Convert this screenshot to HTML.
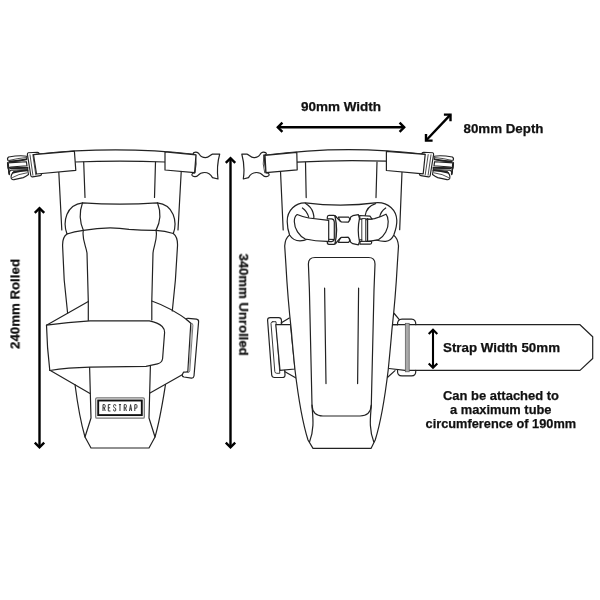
<!DOCTYPE html>
<html><head><meta charset="utf-8">
<style>
html,body{margin:0;padding:0;background:#fff;}
body{width:600px;height:600px;overflow:hidden;font-family:"Liberation Sans",sans-serif;}
svg{display:block}
.l{fill:none;stroke:#222;stroke-width:1.2;stroke-linecap:round;stroke-linejoin:round}
.f{fill:#fff;stroke:#222;stroke-width:1.2;stroke-linecap:round;stroke-linejoin:round}
.a{fill:none;stroke:#000;stroke-width:2.4;stroke-linecap:butt;stroke-linejoin:miter}
text{font-family:"Liberation Sans",sans-serif;font-weight:bold;font-size:13px;fill:#111;stroke:#111;stroke-width:.25}
</style></head><body>
<svg width="600" height="600" viewBox="0 0 600 600">
<rect width="600" height="600" fill="#fff"/>

<g id="lbuckles">
<!-- male buckle (left) -->
<g class="f" style="stroke-width:1.15">
<path d="M27 156.3Q20 155 8.6 157Q6.6 158.5 8.2 160.8Q10 162 20.3 160.7L26.6 159.2Z"/>
<path class="l" d="M9.5 160.3Q18 158.2 26 157.6" style="stroke-width:.8"/>
<path d="M7.5 162.9L26.4 161.7L27 165.8L10.8 167L8.2 168Z"/>
<path d="M7.5 162.9L9.3 174.6" />
<path d="M8.2 168L27.7 167.4L27.7 169.6L10.8 170.3L9 172"/>
<path d="M27.7 170L14 171.5Q10.5 174.5 11.2 178.3Q12 180.2 14 179.6L23.3 177.6Q26 176.5 28.5 174.5Z"/>
<path class="l" d="M12.5 177.5Q18 174 27 172.8" style="stroke-width:.8"/>
<path class="l" d="M9.6 161.6Q18 161 26.4 159.4M10.5 168.300L27.500 167.800M13 172.800Q20 170.600 27.600 170.400" style="stroke-width:1.7"/>
<path class="l" d="M8 163.500L9.300 174" style="stroke-width:1.700"/>
<path d="M28.3 152.8L37.5 152.3Q39 152.3 39.2 153.8L41.6 173.8Q41.6 175.4 40.2 175.6L32.5 176.9Q31 177 30.8 175.5L27.4 154.3Q27.3 153 28.3 152.8Z"/>
<path class="l" d="M30 154.8L32.9 175.2M32.8 154.6L35.8 174.8" style="stroke-width:.8"/>
</g>
<!-- female buckle (right of left bag) -->
<g class="f">
<path d="M195.6 155C193.5 155.3 192.4 153.6 194 152.6C196 151.6 198.5 152.5 199.5 154.5C201 157.2 203 157.6 205.5 157.6C209 157.6 210.5 154.5 212.5 154.1L219.7 154C217.5 162 216.8 170 218 179L212.5 177.6C210.5 174 208.5 172.5 204.5 172.5C201 172.5 199.5 173.5 198 175.3C196.5 177.2 193 177 192 175.3C191.5 173.8 193 172.6 194.8 172.8Z"/>
<path class="l" d="M195.6 155Q197.4 164 194.8 172.8M194.2 155.2Q195.8 164 193.4 172.6" style="stroke-width:.8"/>
</g>
</g>

<g id="leftbag">
<!-- top strap -->
<path class="l" d="M36 154.400Q115 145.500 194 154.300"/>
<path class="l" d="M75 162Q120 160.3 165 162"/>
<!-- verticals under strap -->
<path class="l" d="M58.8 172L61.8 230"/>
<path class="l" d="M83.7 162L85 197.5"/>
<path class="l" d="M155.5 162L154.5 197.5"/>
<path class="l" d="M181.2 172L178 230"/>
<!-- sleeves -->
<path class="f" d="M33.500 154.600L74.400 151.200L75.800 170.400L36.500 174Z"/>
<path class="f" d="M165 151.8L196 154.8L194.6 172.6L165 170Z"/>
<!-- roll -->
<path class="f" d="M67 234C62.5 222 66 204.5 82.7 202.8Q120 205.6 157.3 202.8C174 204.5 177.500 222 173.300 233.500Q165 231 156 230.400Q142 230.500 129 229.300Q108 225.800 83.400 230.400Q74 231.500 67 234Z"/>
<path class="l" d="M82.5 202.8Q77.5 217 83.4 230.4"/>
<path class="l" d="M157.5 202.8Q163 217 156 230.4"/>
<!-- body upper -->
<path class="l" d="M67 234Q62.3 237 62.6 246L64.2 280L67.6 313"/>
<path class="l" d="M173.3 233.5Q177.9 237 177.5 246L175.4 280L172.3 311"/>
<path class="l" d="M83.4 230.4C81.5 238 86 246 87 253L88.3 301.5V321"/>
<path class="l" d="M156 230.4C158 238 153.6 246 153 253L151.8 301V320"/>
<!-- upper diagonals -->
<path class="l" d="M46.500 325.200L88.300 301.500"/>
<path class="l" d="M151.8 301Q172 308 190.8 322.5"/>
<!-- lower body -->
<path class="l" d="M75 384.5C77 400 80 420 85 437L91 448H149L155 437C160 420 163 400 165.5 384.5"/>
<path class="l" d="M89.6 367L91 418L85 437"/>
<path class="l" d="M150.4 366L149 418L155 437"/>
<path class="l" d="M49.5 370L90 393.5"/>
<path class="l" d="M150 393L187.5 371.7"/>
<!-- D ring -->
<g transform="translate(0 .7)">
<path class="f" d="M188.3 317.6L196.5 318.4Q198.8 318.8 198.6 321L194 375.3Q193.6 377.6 191.4 377.4L184 376.3Q181.8 375.8 182.4 373.8L183.5 371.5L187.8 371.3L190.8 322.5L186.3 318.5Q186.5 317.4 188.3 317.6Z"/>
<path class="l" d="M190.8 322.5Q193 322.2 192.9 324.5L189.8 370Q189.5 372.5 187.5 371.7" style="stroke-width:.8;stroke:#555"/>
<path class="l" d="M191.9 323.5L188.8 371" style="stroke-width:.6;stroke:#888"/>
</g>
<!-- wrap strap -->
<path class="f" d="M46.500 325.200Q68 321.900 90 320.800L149.300 320.900Q158 322.500 162.200 326.500Q164.600 329 164.600 332.500L162.600 358.500Q162 362.800 157.500 363.800L146 366.300L90 367.100Q68 367.600 49.800 370.500Q47 347 46.500 325.200Z"/>
<!-- label -->
<rect x="95.7" y="397.8" width="48.6" height="20.4" rx="1.2" fill="#fff" stroke="#777" stroke-width="1.3"/>
<rect x="98.2" y="400.5" width="43.6" height="14.6" fill="#fff" stroke="#111" stroke-width="1.9"/>
<g fill="none" stroke="#333" stroke-width="1" stroke-linejoin="miter"><path vector-effect="non-scaling-stroke" transform="translate(103.00 404.6) scale(.72 1)" d="M0 6.4V0H2Q3 0 3 1V2.2Q3 3.2 2 3.2H0M1.8 3.2L3 6.4"/><path vector-effect="non-scaling-stroke" transform="translate(108.30 404.6) scale(.72 1)" d="M3 0H0V6.4H3M0 3.2H2.5"/><path vector-effect="non-scaling-stroke" transform="translate(113.60 404.6) scale(.72 1)" d="M3 1.6V1Q3 0 2 0H1Q0 0 0 1V2Q0 2.9 1.5 3.2Q3 3.5 3 4.4V5.4Q3 6.4 2 6.4H1Q0 6.4 0 5.4V4.8"/><path vector-effect="non-scaling-stroke" transform="translate(118.90 404.6) scale(.72 1)" d="M0 0H3M1.5 0V6.4"/><path vector-effect="non-scaling-stroke" transform="translate(124.20 404.6) scale(.72 1)" d="M0 6.4V0H2Q3 0 3 1V2.2Q3 3.2 2 3.2H0M1.8 3.2L3 6.4"/><path vector-effect="non-scaling-stroke" transform="translate(129.50 404.6) scale(.72 1)" d="M0 6.4L1.5 0L3 6.4M0.6 4.3H2.4"/><path vector-effect="non-scaling-stroke" transform="translate(134.80 404.6) scale(.72 1)" d="M0 6.4V0H2Q3 0 3 1V2.6Q3 3.6 2 3.6H0"/></g>
</g>

<g id="rightbag">
<!-- buckles first (under sleeves) -->
<g class="f">
<!-- female buckle left -->
<path d="M263.9 155C266 155.3 267.1 153.6 265.5 152.6C263.5 151.6 261 152.5 260 154.5C258.5 157.2 256.5 157.6 254 157.6C250.5 157.6 249 154.5 247 154.1L241.8 154C244 162 244.7 170 243.3 179L248.5 177.6C250.5 174 252.5 172.5 256.5 172.5C260 172.5 261.5 173.5 263 175.3C264.5 177.2 268 177 269 175.3C269.5 173.8 268 172.6 266.2 172.8Z"/>
<path class="l" d="M263.9 155Q262.1 164 264.7 172.8M265.3 155.2Q263.7 164 266.1 172.6" style="stroke-width:.8"/>
</g>
<!-- male buckle right -->
<g class="f" style="stroke-width:1.15">
<path d="M434 156.3Q441 155 452.4 157Q454.4 158.5 452.8 160.8Q451 162 440.7 160.7L434.4 159.2Z"/>
<path class="l" d="M451.5 160.3Q443 158.2 435 157.6" style="stroke-width:.8"/>
<path d="M453.5 162.9L434.6 161.7L434 165.8L450.2 167L452.8 168Z"/>
<path d="M453.5 162.9L451.7 174.6"/>
<path d="M452.8 168L433.3 167.4L433.3 169.6L450.2 170.3L452 172"/>
<path d="M433.3 170L447 171.5Q450.5 174.5 449.8 178.3Q449 180.2 447 179.6L437.7 177.6Q435 176.5 432.5 174.5Z"/>
<path class="l" d="M448.500 177.5Q443 174 434 172.8" style="stroke-width:.8"/>
<path class="l" d="M451.400 161.600Q443 161 434.600 159.400M450.500 168.300L433.500 167.800M448 172.800Q441 170.600 433.400 170.400" style="stroke-width:1.700"/>
<path class="l" d="M453 163.500L451.700 174" style="stroke-width:1.700"/>
<path d="M432.700 152.8L423.500 152.3Q422 152.3 421.800 153.8L419.400 173.800Q419.400 175.400 420.800 175.600L428.500 176.900Q430 177 430.200 175.500L433.600 154.300Q433.700 153 432.700 152.800Z"/>
<path class="l" d="M431 154.800L428.100 175.200M428.200 154.600L425.200 174.800" style="stroke-width:.8"/>
</g>
<!-- top strap -->
<path class="l" d="M266 155.200Q345 144.400 425 154.300"/>
<path class="l" d="M297 162.200Q341 159.600 386.500 161.200"/>
<path class="l" d="M280.500 171.300L283.200 230"/>
<path class="l" d="M305.500 162.300L306.200 197.600"/>
<path class="l" d="M377 162L376 197.600"/>
<path class="l" d="M402 172L399.700 229.700"/>
<path class="f" d="M265 155.300L296.800 152.300L297.200 169.800L266 172.700Z"/>
<path class="f" d="M386.400 151.300L425.200 154.400L423.200 173.800L386.400 170.500Z"/>
<!-- long strap -->
<path class="f" d="M392.500 324.700H580L592.700 336.700V358.500L580 370.400H405L389 368.500"/>
<!-- right d-ring -->
<path class="l" d="M397.500 324.700Q397.200 319.200 402 319.200H411.500Q416 319.200 415.800 324.700"/>
<path class="l" d="M397.500 370.400Q397.200 375.900 402 375.900H411.500Q416 375.900 415.800 370.400"/>
<rect x="405.300" y="323.300" width="3.900" height="48.500" fill="#aaa" stroke="#555" stroke-width=".7"/>
<path class="l" d="M394.200 313.500L399.300 319.600M392.500 324.700L397.500 324.700"/>
<path class="l" d="M387.400 377.500L395 370.600"/>
<!-- left d-ring -->
<path class="f" d="M270.300 317.600L278.700 317.600Q281.200 317.700 281.400 320L285 374.800Q285.100 377.500 282.500 377.500L274.500 377.500Q272 377.500 271.700 375L267.600 320.300Q267.500 317.600 270.300 317.600Z"/>
<path class="f" d="M272.800 321.700L276 321.700L279.800 373.300L276.800 373.300Q275 373.300 274.800 371.500L271 323.500Q271 321.700 272.800 321.700Z" style="stroke-width:.9"/>
<path class="f" d="M275.800 324.700H290.500L295 369L280 370.300Z"/>
<path class="l" d="M281 323L289.300 318M285 371.700L296 378"/>
<!-- body -->
<path class="f" d="M289.600 235Q285.200 238 284.700 246L285.800 263C287 285 289 310 291.300 330C292.500 345 294 360 295 370C298 395 302 421 308 440L313 448.400H371L375.200 440C381.200 421 385.200 395 388.200 370C389.200 360 390.700 345 391.900 330C394.200 310 396.200 285 397.400 263L398.500 246Q397.800 238 393.400 235Z"/>
<!-- inner panel -->
<path class="l" d="M315 257.500H368.500Q375 257.500 375 264L374 290L371.300 405Q370.500 416 360 416H323Q312.500 416 312 405L309.400 290L308.400 264Q308.400 257.500 315 257.500Z"/>
<path class="l" d="M312 405C312.500 415 315 428 309.500 442"/>
<path class="l" d="M371.300 405C370.800 415 368.300 428 373.800 442"/>
<path class="l" d="M324.600 288L326 383.600M358.600 288L357.600 383.600"/>
<!-- roll -->
<path class="f" d="M305.300 202.800C296 202.500 287 210 287.200 221.500C287.300 228 288.500 232 289.600 235C292 239 296 240.800 300 240.800Q304 240.800 307.700 239L377 240.200Q381 241.500 385.700 241.300C390 241 392.500 238 393.800 235C396 229 397 224 396.800 220.300C396.500 210 388 202.400 377.500 202.600Q341 207.500 305.300 202.800Z"/>
<path class="l" d="M305.300 203.200Q311.500 207 313 212.500T313.500 218"/>
<path class="l" d="M302.400 208Q307 211 308.800 217.400"/>
<path class="l" d="M375.500 203.600Q366.500 206.500 365.200 215.500"/>
<path class="l" d="M385.700 208Q380.500 211.500 379.600 217.400"/>
<!-- strap across roll -->
<path class="f" d="M297.200 214.500Q303 217 308.800 218L328.700 220.300V241.300Q316 241.500 305.300 239C299 236 294.500 229 294.300 221.500Q294.300 216.500 297.200 214.500Z"/>
<path class="f" d="M386 214.200Q380.500 217 374.500 218.600L364 220V241.300Q371 241.500 378.700 239.600C384.500 236 388.500 229 388.200 221.500Q388 216.500 386 214.200Z"/>
<!-- center buckle -->
<path class="f" d="M329 215.400H333.800Q337 216 337.200 220.500V239.500Q337 243.800 333.800 244.400H329Q327.200 244.300 327.300 242.300V241.600H331.500Q334.200 241.400 334.300 238.800V222Q334.200 219.200 331.500 218.900H327.300V217.300Q327.300 215.500 329 215.400Z"/>
<path class="l" d="M335.700 219V241" style="stroke-width:.7;stroke:#666"/>
<path class="f" d="M359.600 215.500L370 216.200L372 219V219.200H360ZM360 241.500H371.600V242.800Q371.300 244.100 370 244.200H360Z"/>
<path class="f" d="M362.200 218.600H365.700V241.300H362.200Z" style="stroke-width:.9"/>
<path class="l" d="M367.500 218.600V241.300" style="stroke-width:1.400"/>
<path class="f" d="M334.800 215.600L340.500 221.500L348.300 222Q350.600 220 350.700 217.100L352.800 215.700L358.400 214.700L359.500 218.500Q357 230 359.500 241.600L358.400 244.800L352.800 243.700L350.700 242.300Q350.600 239.400 348.300 237.400L340.500 237.800L334.800 244.200Q338.500 230 334.800 215.600Z"/>
<path class="f" d="M338.400 217.100H348.600Q350.800 218.800 348.300 222H341.300Q339.300 220 338.400 217.100Z"/>
<path class="f" d="M338.400 242.300H348.600Q350.800 240.600 348.300 237.400H341.300Q339.300 239.400 338.400 242.300Z"/>
</g>

<!-- ARROWS -->
<g class="a" id="arrows">
<path d="M39.5 208V447"/><path d="M34.8 212.8L39.5 208.1L44.2 212.8"/><path d="M34.8 442.6L39.5 447.3L44.2 442.6"/>
<path d="M230.5 158V447"/><path d="M225.8 162.8L230.5 158.1L235.2 162.8"/><path d="M225.8 442.6L230.5 447.3L235.2 442.6"/>
<path d="M277.7 127.3H404.3"/><path d="M282.4 122.7L277.8 127.3L282.4 131.9"/><path d="M399.6 122.7L404.2 127.3L399.6 131.9"/>
<path d="M426 140.5L450.5 114.7"/><path d="M426 134V140.6H432.6"/><path d="M443.9 114.6H450.5V121.2"/>
<g style="stroke-width:2.1"><path d="M433 329.7V367.6"/><path d="M428.7 334L433 329.7L437.3 334"/><path d="M428.7 363.4L433 367.7L437.3 363.4"/></g>
</g>
<!-- TEXT -->
<g id="labels" style="opacity:.999">
<text x="301" y="110.5" textLength="80" lengthAdjust="spacingAndGlyphs">90mm Width</text>
<text x="463.5" y="133" textLength="80" lengthAdjust="spacingAndGlyphs">80mm Depth</text>
<text x="443" y="352.3" textLength="117" lengthAdjust="spacingAndGlyphs">Strap Width 50mm</text>
<text x="443" y="399.5" textLength="116" lengthAdjust="spacingAndGlyphs">Can be attached to</text>
<text x="450" y="413.8" textLength="101.5" lengthAdjust="spacingAndGlyphs">a maximum tube</text>
<text x="425.6" y="428.2" textLength="150.5" lengthAdjust="spacingAndGlyphs">circumference of 190mm</text>
<text transform="translate(19.4 349) rotate(-90)" textLength="90" lengthAdjust="spacingAndGlyphs">240mm Rolled</text>
<text transform="translate(239.3 253.6) rotate(90)" textLength="102" lengthAdjust="spacingAndGlyphs">340mm Unrolled</text>
</g>

</svg>
</body></html>
